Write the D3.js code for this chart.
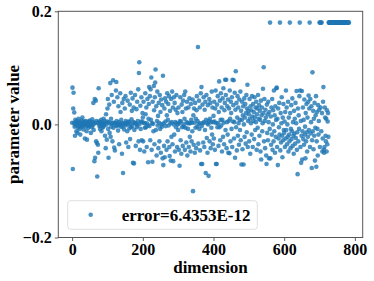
<!DOCTYPE html>
<html lang="en">
  <head>
    <meta charset="utf-8">
    <title>parameter value vs dimension</title>
    <style>
        body { margin: 0; background: #fff; }
        svg { display: block; }
        text {
            font-family: 'Liberation Serif', 'Times New Roman', serif;
            font-weight: bold;
            fill: #000;
        }
        .tick text { font-size: 16px; }
        .axis-labels { font-size: 17px; }
        .legend-text { font-size: 17px; }
    </style>
  </head>
  <body>
    <div id="viz"></div>
    <script src="https://d3js.org/d3.v7.min.js"></script>
    <script>
        // values, one per dimension (dims 0..725 scattered, rest sit at 0.18)
        const dims0to99 = [
          .003, .065, -.079, .028, .056, .002, .021, -.004, -.02, .008,
          -.002, .004, -.012, .001, .006, -.015, .002, -.006, .010, -.003,
          .000, -.008, .004, -.018, .003, -.002, .007, -.005, .001, .012,
          -.003, .002, -.009, .005, -.001, .004, -.025, .000, .006, -.004,
          .002, -.012, -.027, .003, -.002, .005, -.006, .001, .004, -.003,
          .007, -.001, .002, -.015, .000, .003, -.005, .009, -.002, .004,
          .038, -.010, .001, -.065, .045, -.059, .003, .042, -.030, .006,
          -.033, -.092, .002, -.036, -.050, .064, .005, -.003, .001, -.008,
          .004, -.002, .008, -.012, .000, .003, -.006, .002, -.004, .010,
          .001, -.002, .006, -.020, .003, -.042, .018, .000, -.027, .005
        ];
        const dims100to199 = [
          .028, .045, -.008, -.059, .004, .035, -.015, .002, .073, -.022,
          .010, -.004, .052, .001, -.030, .003, .078, -.006, .040, -.041,
          .003, -.046, .002, -.002, .060, .075, .006, -.003, .048, .000,
          -.011, .032, .004, -.035, .001, -.001, .055, .022, -.004, .008,
          .002, -.052, .038, -.004, -.086, .002, .045, -.009, .001, .028,
          -.002, .050, .006, -.032, .003, .001, -.012, .042, .000, -.040,
          .004, .005, -.007, .035, -.026, .001, .056, -.005, .009, .024,
          -.003, .046, -.068, .004, .030, -.069, -.010, .003, .052, .002,
          -.038, .001, .027, -.005, .040, -.002, .006, .062, -.030, .091,
          .110, .001, -.045, .033, -.008, .005, .048, -.028, .004, .020
        ];
        const dims200to299 = [
          .012, -.030, .040, .003, -.048, .002, -.006, .055, .018, -.005,
          .030, -.040, .002, .045, -.002, -.067, .010, .036, .066, -.003,
          .050, -.028, .062, .008, .083, -.045, .002, -.066, .040, .001,
          -.012, .068, .025, -.035, .048, .074, .097, -.010, .032, -.055,
          .006, .058, -.002, .015, -.042, .038, .003, -.030, .052, -.008,
          .022, -.050, .044, .000, -.004, .034, -.060, .086, -.072, .002,
          -.038, .028, -.058, .046, .005, -.003, .040, -.045, .016, .055,
          -.030, .008, .036, -.002, .050, -.040, -.056, .024, .002, -.064,
          .045, -.022, .004, .058, -.035, .030, -.065, .000, .048, -.018,
          .038, -.048, .004, .026, -.005, .052, .002, -.040, .020, .000
        ];
        const dims300to399 = [
          -.010, .030, -.045, .002, -.073, .006, .048, -.028, .005, -.052,
          .035, -.005, .022, -.038, .042, .000, -.004, .052, .010, -.045,
          .058, -.006, .028, -.032, .004, .040, -.055, .002, -.008, .030,
          -.040, .002, .046, -.022, .002, -.048, .036, .008, -.030, .003,
          -.012, .044, -.118, .016, -.036, .028, .003, -.050, .038, -.006,
          .010, -.042, .025, .050, -.004, .006, .137, -.034, .001, .042,
          -.008, .030, -.046, .002, .055, -.070, .066, -.003, -.070, .035,
          .002, -.032, .048, .004, -.040, .026, -.010, .040, -.086, .008,
          .052, -.024, .002, -.050, .034, .000, -.091, .006, .045, -.030,
          .010, .038, -.042, .004, -.006, .058, -.018, .030, -.035, .004
        ];
        const dims400to499 = [
          .015, -.025, .040, .005, -.045, .028, .060, -.070, .002, -.070,
          .035, -.005, .050, .002, -.038, .022, .076, -.005, .042, -.028,
          .008, .055, -.002, .030, -.048, .008, .046, -.022, .064, .003,
          -.035, .025, .038, .079, -.010, .052, .079, -.042, .004, .032,
          -.018, .044, -.050, .006, .028, -.051, .060, .010, -.030, .040,
          .020, -.008, .048, -.040, .079, .005, .034, .078, -.025, .004,
          .056, -.059, .026, .094, -.005, .038, -.046, .012, .050, -.020,
          .030, .002, -.036, .044, .008, -.010, .058, -.028, .024, -.071,
          .008, .040, -.044, .016, .032, -.071, .000, .046, -.022, .012,
          .036, -.034, .020, .052, -.014, .028, .070, -.040, .006, .024
        ];
        const dims500to599 = [
          .018, -.030, .045, .010, -.052, .032, .002, .025, -.018, .050,
          .014, -.040, .036, .006, .022, -.026, .048, .012, -.010, .030,
          .004, .040, -.045, .018, .028, -.006, .052, -.035, .010, .034,
          -.020, .024, .008, -.048, .042, -.062, .016, .030, -.012, .002,
          .063, .020, .101, -.030, .045, .006, -.042, .026, .012, -.055,
          -.070, .035, -.015, .018, -.028, .040, .004, -.060, .022, -.008,
          .180, -.060, .014, -.036, .030, -.018, .045, -.045, .000, .025,
          -.030, .060, -.012, .016, -.050, .032, -.022, .008, .064, .065,
          -.040, .010, -.072, .028, -.025, -.005, .038, -.018, .180, -.046,
          .020, -.032, .002, .048, -.020, -.058, .012, -.028, .036, -.010
        ];
        const dims600to699 = [
          -.015, .005, -.040, .022, -.025, .060, -.010, .030, -.035, .000,
          -.022, .040, -.048, .012, -.018, -.030, .180, .020, -.042, -.008,
          .034, -.026, -.012, .046, -.038, .004, -.020, -.052, .024, -.016,
          .010, -.034, .038, -.024, .002, .059, -.045, -.014, -.088, .028,
          -.030, .016, -.008, .050, .180, .060, -.040, .006, -.068, -.020,
          .059, -.062, -.012, .030, -.026, .008, -.036, .044, -.018, -.004,
          -.060, .020, -.030, .036, -.014, -.048, .012, -.022, .040, .051,
          -.010, .028, .180, -.040, .045, -.016, .004, .032, -.077, -.028,
          .092, -.012, .024, -.044, .010, -.020, .038, -.064, -.006, .016,
          .050, -.075, -.030, .022, -.008, -.055, .034, -.018, .006, .026
        ];
        const dims700to783 = [
          .180, -.040, .180, .030, .180, -.012, .180, .020, -.048, -.025,
          .040, .066, -.045, -.050, -.040, .030, .012, -.020, -.030, .010,
          -.048, .025, -.035, .005, .020, -.022,
          .180, .180, .180, .180, .180, .180, .180, .180, .180, .180,
          .180, .180, .180, .180, .180, .180, .180, .180, .180, .180,
          .180, .180, .180, .180, .180, .180, .180, .180, .180, .180,
          .180, .180, .180, .180, .180, .180, .180, .180, .180, .180,
          .180, .180, .180, .180, .180, .180, .180, .180, .180, .180,
          .180, .180, .180, .180, .180, .180, .180, .180
        ];
        const xTicks = [0, 200, 400, 600, 800];
        const yTicks = [-0.2, 0.0, 0.2];
        const legendLabel = "error=6.4353E-12";

        const values = [].concat(dims0to99, dims100to199, dims200to299, dims300to399,
          dims400to499, dims500to599, dims600to699, dims700to783);
        const data = values.map((v, i) => ({ dim: i, value: v }));

        const width = 374, height = 281;
        const plot = { left: 58.3, right: 362.7, top: 11.3, bottom: 237.5 };

        const svg = d3.select("#viz").append("svg")
            .attr("width", width)
            .attr("height", height);

        // matplotlib style 5% margins on x
        const n = data.length - 1;
        const xScale = d3.scaleLinear().domain([-0.05 * n, n * 1.05]).range([plot.left, plot.right]);
        const yScale = d3.scaleLinear().domain([-0.2, 0.2]).range([plot.bottom, plot.top]);

        svg.append("g")
            .selectAll("circle")
            .data(data)
            .join("circle")
            .attr("cx", d => xScale(d.dim))
            .attr("cy", d => yScale(d.value))
            .attr("r", 2.3)
            .attr("fill", "#1f77b4")
            .attr("fill-opacity", 0.8);

        const fmtY = d => d === 0 ? "0.0" : d3.format(".1f")(d).replace("-", "\u2212");

        svg.append("g")
            .attr("transform", `translate(0,${plot.bottom})`)
            .call(d3.axisBottom(xScale).tickValues(xTicks).tickSize(3.5).tickPadding(3).tickFormat(d3.format("d")))
            .call(g => g.select(".domain").remove())
            .call(g => g.selectAll(".tick line").attr("stroke", "#333").attr("stroke-width", 0.8));

        svg.append("g")
            .attr("transform", `translate(${plot.left},0)`)
            .call(d3.axisLeft(yScale).tickValues(yTicks).tickSize(3.5).tickPadding(3).tickFormat(fmtY))
            .call(g => g.select(".domain").remove())
            .call(g => g.selectAll(".tick line").attr("stroke", "#333").attr("stroke-width", 0.8));

        svg.selectAll(".tick text").attr("font-family", null).attr("font-size", null);

        // frame
        svg.append("rect")
            .attr("x", plot.left).attr("y", plot.top)
            .attr("width", plot.right - plot.left).attr("height", plot.bottom - plot.top)
            .attr("fill", "none").attr("stroke", "#555").attr("stroke-width", 1);

        svg.append("text").attr("class", "axis-labels")
            .attr("x", (plot.left + plot.right) / 2).attr("y", 272.5)
            .attr("text-anchor", "middle").text("dimension");
        svg.append("text").attr("class", "axis-labels")
            .attr("transform", `translate(19,${(plot.top + plot.bottom) / 2}) rotate(-90)`)
            .attr("text-anchor", "middle").text("parameter value");

        // legend
        const legend = svg.append("g");
        legend.append("rect")
            .attr("x", 67.7).attr("y", 200.7).attr("width", 189.6).attr("height", 28.6)
            .attr("rx", 3).attr("fill", "#fff").attr("fill-opacity", 0.8)
            .attr("stroke", "#d6d6d6").attr("stroke-width", 0.8);
        legend.append("circle")
            .attr("cx", 90.7).attr("cy", 214.7).attr("r", 2.3)
            .attr("fill", "#1f77b4").attr("fill-opacity", 0.8);
        legend.append("text").attr("class", "legend-text")
            .attr("x", 121.7).attr("y", 220.6).text(legendLabel);
    </script>
  </body>
</html>
